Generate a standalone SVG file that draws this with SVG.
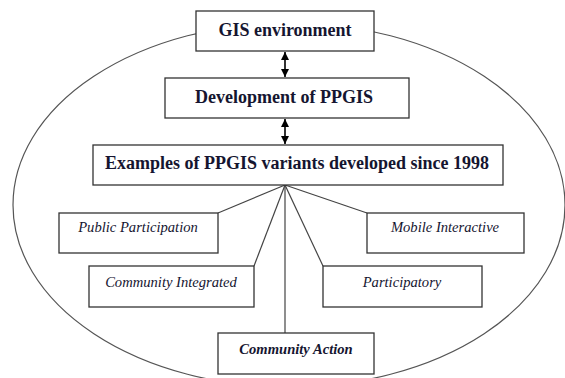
<svg xmlns="http://www.w3.org/2000/svg" width="565" height="378" viewBox="0 0 565 378">
<style>
.box{fill:#fff;stroke:#333;stroke-width:1.3}
.hd{font-family:"Liberation Serif","Times New Roman",serif;font-weight:bold;font-size:18px;fill:#151530;text-anchor:middle}
.it{font-family:"Liberation Serif","Times New Roman",serif;font-style:italic;font-size:14.6px;fill:#151530;text-anchor:middle}
.bi{font-family:"Liberation Serif","Times New Roman",serif;font-style:italic;font-weight:bold;font-size:14.6px;fill:#151530;text-anchor:middle}
.ln{stroke:#444;stroke-width:1.2;fill:none}
.ar{stroke:#000;stroke-width:1.6;fill:none}
</style>
<defs>
<marker id="ah" viewBox="0 0 10 10" refX="10" refY="5" markerWidth="8" markerHeight="8" orient="auto-start-reverse" markerUnits="userSpaceOnUse">
<path d="M0,0 L10,5 L0,10 z" fill="#000"/>
</marker>
</defs>
<ellipse id="boundary" cx="289" cy="205" rx="276" ry="182" fill="none" stroke="#555" stroke-width="1.2"/>
<g id="connectors">
<line class="ar" x1="285" y1="52" x2="285" y2="77" marker-start="url(#ah)" marker-end="url(#ah)"/>
<line class="ar" x1="285" y1="119" x2="285" y2="144" marker-start="url(#ah)" marker-end="url(#ah)"/>
<line class="ln" x1="285" y1="185" x2="218" y2="213"/>
<line class="ln" x1="285" y1="185" x2="367" y2="213"/>
<line class="ln" x1="285" y1="185" x2="254" y2="266"/>
<line class="ln" x1="285" y1="185" x2="323" y2="266"/>
<line class="ln" x1="285" y1="185" x2="285" y2="333"/>
</g>
<g id="gis">
<rect class="box" x="196" y="11" width="178" height="40"/>
<text class="hd" x="285" y="36">GIS environment</text>
</g>
<g id="development">
<rect class="box" x="165" y="78" width="244" height="40"/>
<text class="hd" x="284" y="103" font-size="17.5">Development of PPGIS</text>
</g>
<g id="examples">
<rect class="box" x="93" y="145" width="410" height="40"/>
<text class="hd" x="297" y="169">Examples of PPGIS variants developed since 1998</text>
</g>
<g id="public">
<rect class="box" x="59" y="213" width="159" height="40"/>
<text class="it" x="138" y="232">Public Participation</text>
</g>
<g id="mobile">
<rect class="box" x="367" y="213" width="157" height="40"/>
<text class="it" x="445" y="232">Mobile Interactive</text>
</g>
<g id="integrated">
<rect class="box" x="89" y="266" width="165" height="41"/>
<text class="it" x="171" y="287">Community Integrated</text>
</g>
<g id="participatory">
<rect class="box" x="323" y="266" width="159" height="41"/>
<text class="it" x="402" y="287">Participatory</text>
</g>
<g id="action">
<rect class="box" x="218" y="333" width="156" height="41"/>
<text class="bi" x="296" y="354">Community Action</text>
</g>
</svg>
